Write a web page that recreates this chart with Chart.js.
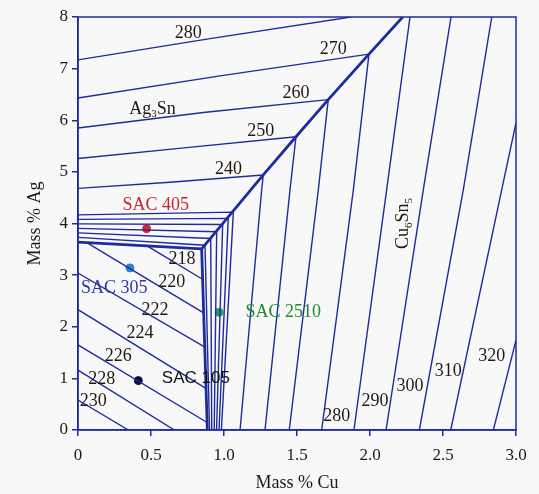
<!DOCTYPE html>
<html>
<head>
<meta charset="utf-8">
<script src="https://cdn.jsdelivr.net/npm/chart.js@4.4.1/dist/chart.umd.min.js"></script>
<style>
  html, body { margin: 0; padding: 0; background: #f8f8f8; }
</style>
</head>
<body>
<canvas id="chart" width="539" height="494"></canvas>
<script>
// axis ticks
const cuTicks = [0, 0.5, 1.0, 1.5, 2.0, 2.5, 3.0];
const agTicks = [0, 1, 2, 3, 4, 5, 6, 7, 8];

// phase boundaries (Mass % Cu, Mass % Ag)
const snAg3SnValley = [[0, 3.64], [0.847, 3.51]];
const snCu6Sn5Valley = [[0.847, 3.51], [0.886, 0]];
const ag3SnCu6Sn5Valley = [[0.847, 3.51], [1.269, 4.94], [1.493, 5.68], [1.714, 6.40], [1.993, 7.28], [2.224, 8.0]];

// Ag3Sn liquidus isotherms 240..280
const ag3SnTemps = [240, 250, 260, 270, 280];
const ag3SnLines = [
  [[0, 4.68], [0.63, 4.80], [1.269, 4.94]],
  [[0, 5.26], [0.744, 5.47], [1.493, 5.68]],
  [[0, 5.85], [0.858, 6.15], [1.714, 6.40]],
  [[0, 6.43], [0.973, 6.86], [1.993, 7.28]],
  [[0, 7.17], [0.904, 7.58], [1.87, 8.0]]
];

// unlabelled isotherms close to the eutectic (Ag3Sn side -> valley -> Cu6Sn5 side)
const eutecticFan = [
  [[0, 4.167], [1.064, 4.22], [0.982, 0]],
  [[0, 4.079], [1.029, 4.10], [0.966, 0]],
  [[0, 3.992], [0.991, 3.98], [0.949, 0]],
  [[0, 3.905], [0.950, 3.84], [0.933, 0]],
  [[0, 3.818], [0.909, 3.71], [0.916, 0]],
  [[0, 3.731], [0.870, 3.58], [0.901, 0]]
];

// Sn liquidus isotherms 218..230
const snTemps = [218, 220, 222, 224, 226, 228, 230];
const snLines = [
  [[0.47, 3.57], [0.853, 2.92]],
  [[0.06, 3.63], [0.86, 2.27]],
  [[0, 3.04], [0.866, 1.61]],
  [[0, 2.33], [0.873, 0.81]],
  [[0, 1.65], [0.882, 0.15]],
  [[0, 1.16], [0.66, 0]],
  [[0, 0.58], [0.345, 0]]
];

// Cu6Sn5 liquidus isotherms (240..330)
const cu6Sn5Lines = [
  [[1.110, 0], [1.258, 4.65], [1.269, 4.94]],
  [[1.281, 0], [1.452, 4.65], [1.493, 5.68]],
  [[1.447, 0], [1.646, 4.65], [1.714, 6.40]],
  [[1.669, 0], [1.886, 4.65], [1.993, 7.28]],
  [[1.890, 0], [2.114, 4.65], [2.274, 8.0]],
  [[2.110, 0], [2.365, 4.65], [2.555, 8.0]],
  [[2.338, 0], [2.639, 4.65], [2.834, 8.0]],
  [[2.553, 0], [2.902, 4.65], [3.0, 5.95]],
  [[2.845, 0], [3.0, 1.74]]
];
const cu6Sn5Temps = [280, 290, 300, 310, 320];

// solder alloys
const sacNames = ['SAC 405', 'SAC 305', 'SAC 2510', 'SAC 105'];
const sacCu = [0.47, 0.356, 0.966, 0.413];
const sacAg = [3.9, 3.14, 2.28, 0.957];

// where the text labels sit (data units)
const ag3SnLabelAt = [[1.03, 5.06], [1.251, 5.78], [1.493, 6.53], [1.749, 7.38], [0.755, 7.69]];
const snLabelAt = [[0.712, 3.31], [0.642, 2.87], [0.527, 2.31], [0.425, 1.87], [0.276, 1.42], [0.162, 0.99], [0.105, 0.55]];
const cu6Sn5LabelAt = [[1.772, 0.26], [2.034, 0.55], [2.274, 0.84], [2.536, 1.13], [2.834, 1.42]];
const sacLabelAt = [[0.533, 4.36], [0.248, 2.75], [1.406, 2.29], [0.807, 1.0]];

const NAVY = '#1d2b9e';
const SERIF = '"Liberation Serif", "DejaVu Serif", serif';
const SANS = '"Liberation Sans", "DejaVu Sans", sans-serif';
const TEXT = '#221812';
const sacDot = ['#e0262c', '#2f80d2', '#22a35c', '#0c0c3c'];
const sacText = ['#c8262c', '#2b3aa8', '#1e8c2e', '#111111'];

function lineSet(points, width) {
  return {
    data: points.map(([x, y]) => ({ x, y })),
    showLine: true,
    borderColor: NAVY,
    borderWidth: width,
    pointRadius: 0,
    fill: false,
    tension: 0
  };
}

const datasets = [];
ag3SnLines.forEach(p => datasets.push(lineSet(p, 1.4)));
eutecticFan.forEach(p => datasets.push(lineSet(p, 1.4)));
snLines.forEach(p => datasets.push(lineSet(p, 1.4)));
cu6Sn5Lines.forEach(p => datasets.push(lineSet(p, 1.4)));
[snAg3SnValley, snCu6Sn5Valley, ag3SnCu6Sn5Valley].forEach(p => datasets.push(lineSet(p, 2.8)));
datasets.push({
  data: sacCu.map((x, i) => ({ x, y: sacAg[i] })),
  showLine: false,
  pointRadius: 4,
  pointBackgroundColor: sacDot,
  pointBorderColor: sacDot,
  pointBorderWidth: 1
});

// draws text with subscripts, centred on x
function drawRich(ctx, parts, x, y, size) {
  const big = size + 'px ' + SERIF;
  const small = Math.round(size * 0.62) + 'px ' + SERIF;
  let w = 0;
  parts.forEach(([t, sub]) => { ctx.font = sub ? small : big; w += ctx.measureText(t).width; });
  let cx = x - w / 2;
  ctx.textAlign = 'left';
  ctx.textBaseline = 'middle';
  parts.forEach(([t, sub]) => {
    ctx.font = sub ? small : big;
    ctx.fillText(t, cx, sub ? y + size * 0.3 : y);
    cx += ctx.measureText(t).width;
  });
}

const decorations = {
  id: 'decorations',
  beforeDraw(chart) {
    const ctx = chart.ctx;
    ctx.save();
    ctx.fillStyle = '#f8f8f8';
    ctx.fillRect(0, 0, chart.width, chart.height);
    ctx.restore();
  },
  afterDatasetsDraw(chart) {
    const { ctx, chartArea: a, scales: { x, y } } = chart;
    ctx.save();
    // plot frame
    ctx.strokeStyle = NAVY;
    ctx.lineWidth = 1.5;
    ctx.strokeRect(a.left, a.top, a.right - a.left, a.bottom - a.top);

    const px = v => x.getPixelForValue(v);
    const py = v => y.getPixelForValue(v);

    ctx.fillStyle = TEXT;
    ctx.font = '18px ' + SERIF;
    ctx.textAlign = 'center';
    ctx.textBaseline = 'middle';
    ag3SnTemps.forEach((t, i) => ctx.fillText(String(t), px(ag3SnLabelAt[i][0]), py(ag3SnLabelAt[i][1])));
    snTemps.forEach((t, i) => ctx.fillText(String(t), px(snLabelAt[i][0]), py(snLabelAt[i][1])));
    cu6Sn5Temps.forEach((t, i) => ctx.fillText(String(t), px(cu6Sn5LabelAt[i][0]), py(cu6Sn5LabelAt[i][1])));

    // phase names
    drawRich(ctx, [['Ag'], ['3', true], ['Sn']], px(0.511), py(6.22), 18);
    ctx.save();
    ctx.translate(px(2.228), py(4.0));
    ctx.rotate(-Math.PI / 2);
    drawRich(ctx, [['Cu'], ['6', true], ['Sn'], ['5', true]], 0, 0, 18);
    ctx.restore();

    // alloy names
    sacNames.forEach((n, i) => {
      ctx.fillStyle = sacText[i];
      ctx.font = (n === 'SAC 105' ? '17px ' + SANS : '18px ' + SERIF);
      ctx.textAlign = 'center';
      ctx.textBaseline = 'middle';
      ctx.fillText(n, px(sacLabelAt[i][0]), py(sacLabelAt[i][1]));
    });
    ctx.restore();
  }
};

new Chart(document.getElementById('chart'), {
  type: 'scatter',
  data: { datasets },
  options: {
    responsive: false,
    animation: false,
    layout: { padding: { top: 17, right: 23, left: 0, bottom: 0 } },
    plugins: { legend: { display: false }, tooltip: { enabled: false } },
    scales: {
      x: {
        type: 'linear',
        min: 0,
        max: 3,
        afterBuildTicks: s => { s.ticks = cuTicks.map(v => ({ value: v })); },
        afterFit: s => { s.height = 64; },
        ticks: {
          color: TEXT,
          font: { family: SERIF, size: 17 },
          padding: 9,
          maxRotation: 0,
          autoSkip: false,
          callback: v => (v === 0 ? '0' : v.toFixed(1))
        },
        grid: { drawOnChartArea: false, drawTicks: true, tickLength: 6, color: NAVY, lineWidth: 1.5 },
        border: { display: true, color: NAVY, width: 1.5 },
        title: { display: true, text: 'Mass % Cu', color: TEXT, font: { family: SERIF, size: 18 }, padding: { top: 0, bottom: 0 } }
      },
      y: {
        type: 'linear',
        min: 0,
        max: 8,
        afterBuildTicks: s => { s.ticks = agTicks.map(v => ({ value: v })); },
        afterFit: s => { s.width = 78; },
        ticks: {
          color: TEXT,
          font: { family: SERIF, size: 17 },
          padding: 4,
          autoSkip: false,
          callback: v => String(v)
        },
        grid: { drawOnChartArea: false, drawTicks: true, tickLength: 6, color: NAVY, lineWidth: 1.5 },
        border: { display: true, color: NAVY, width: 1.5 },
        title: { display: true, text: 'Mass % Ag', color: TEXT, font: { family: SERIF, size: 18 }, padding: { top: 24, bottom: 0 } }
      }
    }
  },
  plugins: [decorations]
});
</script>
</body>
</html>
